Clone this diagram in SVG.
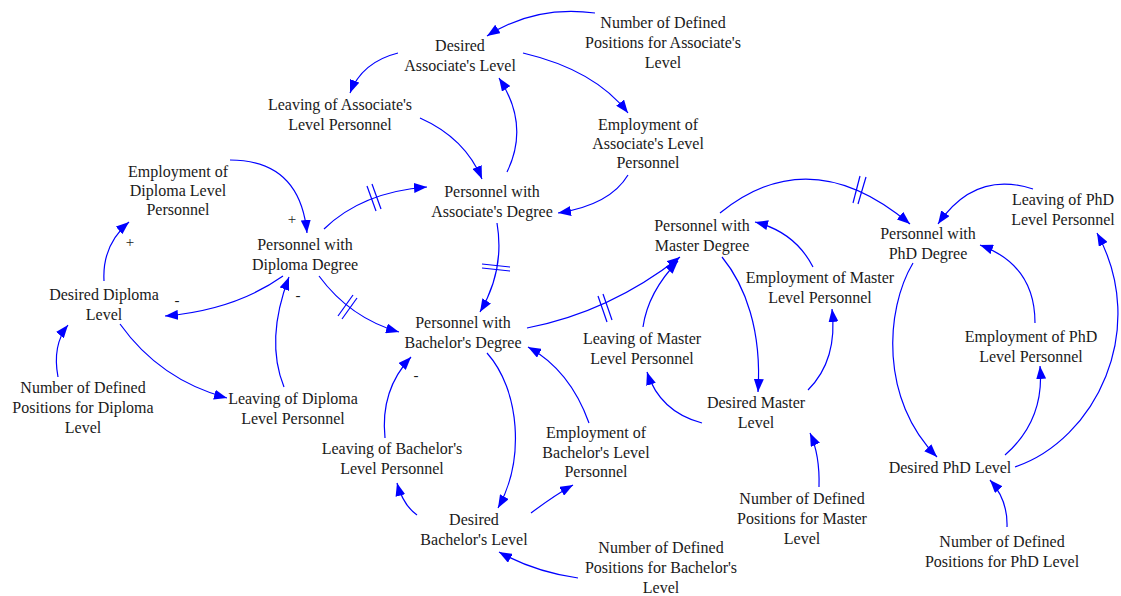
<svg xmlns="http://www.w3.org/2000/svg" width="1121" height="596" viewBox="0 0 1121 596">
<style>
text{font-size:16px;fill:#1a1a1a;text-anchor:middle}
.c path{fill:none;stroke:#0000ff;stroke-width:1.2;marker-end:url(#ah)}
.d line{stroke:#0000ff;stroke-width:1.2}
.p{font-size:15px}
</style>
<defs>
<marker id="ah" markerUnits="userSpaceOnUse" markerWidth="14" markerHeight="10" refX="13" refY="5" orient="auto">
<path d="M0,0 L13,5 L0,10 z" fill="#0000ff"/>
</marker>
</defs>
<rect width="1121" height="596" fill="#fff"/>
<g class="c" id="connectors">
<path d="M595,13 Q535,5 487,36"/>
<path d="M398,53 Q362,62 350,93"/>
<path d="M523,53 Q595,70 628,113"/>
<path d="M420,118 Q465,138 482,179"/>
<path d="M507,172 Q530,125 499,78"/>
<path d="M628,175 Q610,205 558,213"/>
<path d="M230,160 Q300,160 307,233"/>
<path d="M324,229 Q362,192 427,187"/>
<path d="M104,281 Q102,245 129,222"/>
<path d="M283,276 Q235,310 165,316"/>
<path d="M284,387 Q265,340 289,277"/>
<path d="M120,324 Q160,380 227,398"/>
<path d="M58,377 Q52,345 68,325"/>
<path d="M319,276 Q350,318 399,332"/>
<path d="M497,223 Q505,270 480,312"/>
<path d="M527,328 Q610,312 680,257"/>
<path d="M385,438 Q380,390 411,357"/>
<path d="M487,353 C520,390 525,460 498,508"/>
<path d="M589,423 Q570,370 528,347"/>
<path d="M417,515 Q403,505 397,483"/>
<path d="M531,513 Q555,495 573,485"/>
<path d="M578,578 Q535,572 499,552"/>
<path d="M643,327 Q648,292 678,261"/>
<path d="M722,257 C745,285 762,330 758,392"/>
<path d="M813,267 Q795,232 755,222"/>
<path d="M702,423 Q660,412 647,372"/>
<path d="M808,390 Q838,360 832,309"/>
<path d="M819,487 Q820,455 810,433"/>
<path d="M720,213 Q810,140 910,224"/>
<path d="M1033,189 Q975,170 938,224"/>
<path d="M913,263 C885,310 880,400 937,457"/>
<path d="M1035,323 Q1035,265 980,245"/>
<path d="M1005,455 Q1045,420 1040,366"/>
<path d="M1015,467 C1095,440 1150,330 1097,233"/>
<path d="M1007,527 Q1008,500 990,480"/>
</g>
<g class="d" id="delay-marks">
<line x1="367" y1="186" x2="376" y2="211"/><line x1="372" y1="184" x2="381" y2="209"/>
<line x1="338" y1="316" x2="353" y2="295"/><line x1="342" y1="319" x2="357" y2="298"/>
<line x1="482" y1="264" x2="510" y2="267"/><line x1="482" y1="268" x2="510" y2="271"/>
<line x1="598" y1="296" x2="607" y2="322"/><line x1="603" y1="294" x2="612" y2="320"/>
<line x1="860" y1="176" x2="853" y2="203"/><line x1="866" y1="177" x2="858" y2="204"/>
</g>
<g font-family="'Liberation Serif', 'Times New Roman', Times, serif">
<g id="polarity">
<text class="p" x="292" y="224">+</text>
<text class="p" x="130" y="247">+</text>
<text class="p" x="177" y="305">-</text>
<text class="p" x="298" y="300">-</text>
<text class="p" x="416" y="380">-</text>
</g>
<g id="n-desired-assoc"><text x="460" y="51">Desired<tspan x="460" dy="20">Associate's Level</tspan></text></g>
<g id="n-ndp-assoc"><text x="663" y="28">Number of Defined<tspan x="663" dy="20">Positions for Associate's</tspan><tspan x="663" dy="20">Level</tspan></text></g>
<g id="n-leave-assoc"><text x="340" y="110">Leaving of Associate's<tspan x="340" dy="20">Level Personnel</tspan></text></g>
<g id="n-emp-assoc"><text x="648" y="130">Employment of<tspan x="648" dy="19">Associate's Level</tspan><tspan x="648" dy="19">Personnel</tspan></text></g>
<g id="n-emp-dipl"><text x="178" y="177">Employment of<tspan x="178" dy="19">Diploma Level</tspan><tspan x="178" dy="19">Personnel</tspan></text></g>
<g id="n-pers-assoc"><text x="492" y="197">Personnel with<tspan x="492" dy="20">Associate's Degree</tspan></text></g>
<g id="n-pers-dipl"><text x="305" y="250">Personnel with<tspan x="305" dy="20">Diploma Degree</tspan></text></g>
<g id="n-desired-dipl"><text x="104" y="300">Desired Diploma<tspan x="104" dy="20">Level</tspan></text></g>
<g id="n-pers-bach"><text x="463" y="328">Personnel with<tspan x="463" dy="20">Bachelor's Degree</tspan></text></g>
<g id="n-pers-master"><text x="702" y="231">Personnel with<tspan x="702" dy="20">Master Degree</tspan></text></g>
<g id="n-pers-phd"><text x="928" y="239">Personnel with<tspan x="928" dy="20">PhD Degree</tspan></text></g>
<g id="n-leave-phd"><text x="1063" y="205">Leaving of PhD<tspan x="1063" dy="20">Level Personnel</tspan></text></g>
<g id="n-emp-master"><text x="820" y="283">Employment of Master<tspan x="820" dy="20">Level Personnel</tspan></text></g>
<g id="n-leave-master"><text x="642" y="344">Leaving of Master<tspan x="642" dy="20">Level Personnel</tspan></text></g>
<g id="n-emp-phd"><text x="1031" y="342">Employment of PhD<tspan x="1031" dy="20">Level Personnel</tspan></text></g>
<g id="n-ndp-dipl"><text x="83" y="393">Number of Defined<tspan x="83" dy="20">Positions for Diploma</tspan><tspan x="83" dy="20">Level</tspan></text></g>
<g id="n-leave-dipl"><text x="293" y="404">Leaving of Diploma<tspan x="293" dy="20">Level Personnel</tspan></text></g>
<g id="n-desired-master"><text x="756" y="408">Desired Master<tspan x="756" dy="20">Level</tspan></text></g>
<g id="n-leave-bach"><text x="392" y="454">Leaving of Bachelor's<tspan x="392" dy="20">Level Personnel</tspan></text></g>
<g id="n-emp-bach"><text x="596" y="438">Employment of<tspan x="596" dy="20">Bachelor's Level</tspan><tspan x="596" dy="19">Personnel</tspan></text></g>
<g id="n-desired-phd"><text x="950" y="473">Desired PhD Level</text></g>
<g id="n-desired-bach"><text x="474" y="525">Desired<tspan x="474" dy="20">Bachelor's Level</tspan></text></g>
<g id="n-ndp-master"><text x="802" y="504">Number of Defined<tspan x="802" dy="20">Positions for Master</tspan><tspan x="802" dy="20">Level</tspan></text></g>
<g id="n-ndp-bach"><text x="661" y="553">Number of Defined<tspan x="661" dy="20">Positions for Bachelor's</tspan><tspan x="661" dy="20">Level</tspan></text></g>
<g id="n-ndp-phd"><text x="1002" y="547">Number of Defined<tspan x="1002" dy="20">Positions for PhD Level</tspan></text></g>
</g>
</svg>
